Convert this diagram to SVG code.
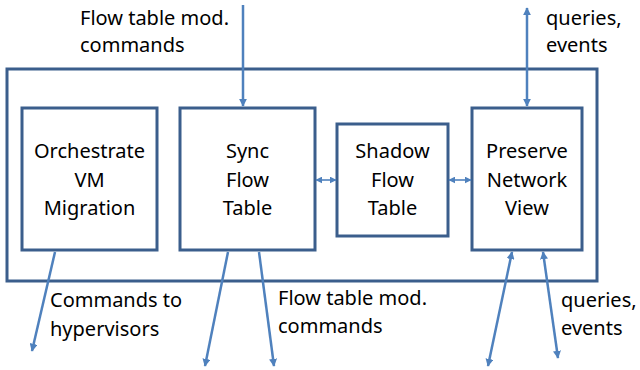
<svg xmlns="http://www.w3.org/2000/svg" width="640" height="370" viewBox="0 0 640 370">
  <style>
    .box { fill: #ffffff; stroke: #3b5e8c; stroke-width: 3; }
    .outer { fill: none; stroke: #3b5e8c; stroke-width: 3; }
    .lbl { font-family: "Noto Sans", "Open Sans", sans-serif; font-size: 20px; fill: #000000; }
    .mid { text-anchor: middle; }
    .conn { fill: none; stroke: #4f81bd; stroke-width: 2.5; }
    .conn-thin { fill: none; stroke: #4f81bd; stroke-width: 1.6; }
  </style>
  <defs>
    <marker id="head" viewBox="0 0 10 10" refX="9" refY="5" markerWidth="8" markerHeight="8" markerUnits="userSpaceOnUse" orient="auto-start-reverse">
      <path d="M0,0 L10,5 L0,10 z" fill="#4f81bd"/>
    </marker>
    <marker id="headSmall" viewBox="0 0 10 10" refX="9" refY="5" markerWidth="7" markerHeight="7" markerUnits="userSpaceOnUse" orient="auto-start-reverse">
      <path d="M0,0 L10,5 L0,10 z" fill="#4f81bd"/>
    </marker>
  </defs>

  <!-- enclosing frame -->
  <rect id="frame" class="outer" x="7" y="69" width="590" height="212"/>

  <g id="orchestrate">
    <rect class="box" x="22" y="108" width="135" height="142"/>
    <text class="lbl mid" x="89.5" y="158">Orchestrate</text>
    <text class="lbl mid" x="89.5" y="187">VM</text>
    <text class="lbl mid" x="89.5" y="215">Migration</text>
  </g>

  <g id="sync">
    <rect class="box" x="180" y="108" width="135" height="142"/>
    <text class="lbl mid" x="247.5" y="158">Sync</text>
    <text class="lbl mid" x="247.5" y="187">Flow</text>
    <text class="lbl mid" x="247.5" y="215">Table</text>
  </g>

  <g id="shadow">
    <rect class="box" x="337" y="124" width="111" height="112"/>
    <text class="lbl mid" x="392.5" y="158">Shadow</text>
    <text class="lbl mid" x="392.5" y="187">Flow</text>
    <text class="lbl mid" x="392.5" y="215">Table</text>
  </g>

  <g id="preserve">
    <rect class="box" x="472" y="108" width="110" height="142"/>
    <text class="lbl mid" x="527" y="158">Preserve</text>
    <text class="lbl mid" x="527" y="187">Network</text>
    <text class="lbl mid" x="527" y="215">View</text>
  </g>

  <g id="connectors">
    <line class="conn" x1="243" y1="5" x2="243" y2="106" marker-end="url(#head)"/>
    <line class="conn" x1="527" y1="8" x2="527" y2="106" marker-start="url(#head)" marker-end="url(#head)"/>
    <line class="conn-thin" x1="316" y1="180" x2="336" y2="180" marker-start="url(#headSmall)" marker-end="url(#headSmall)"/>
    <line class="conn-thin" x1="449" y1="180" x2="471" y2="180" marker-start="url(#headSmall)" marker-end="url(#headSmall)"/>
    <line class="conn" x1="55" y1="252" x2="32" y2="351" marker-end="url(#head)"/>
    <line class="conn" x1="228" y1="252" x2="205" y2="366" marker-end="url(#head)"/>
    <line class="conn" x1="259" y1="252" x2="274" y2="366" marker-end="url(#head)"/>
    <line class="conn" x1="512" y1="252" x2="488" y2="366" marker-start="url(#head)" marker-end="url(#head)"/>
    <line class="conn" x1="543" y1="252" x2="558" y2="358" marker-start="url(#head)" marker-end="url(#head)"/>
  </g>

  <g id="edge-labels">
    <text class="lbl" x="80" y="25">Flow table mod.</text>
    <text class="lbl" x="80" y="52">commands</text>
    <text class="lbl" x="546" y="25">queries,</text>
    <text class="lbl" x="546" y="52">events</text>
    <text class="lbl" x="50" y="307">Commands to</text>
    <text class="lbl" x="50" y="336">hypervisors</text>
    <text class="lbl" x="278" y="305">Flow table mod.</text>
    <text class="lbl" x="278" y="333">commands</text>
    <text class="lbl" x="561" y="307">queries,</text>
    <text class="lbl" x="561" y="335">events</text>
  </g>
</svg>
